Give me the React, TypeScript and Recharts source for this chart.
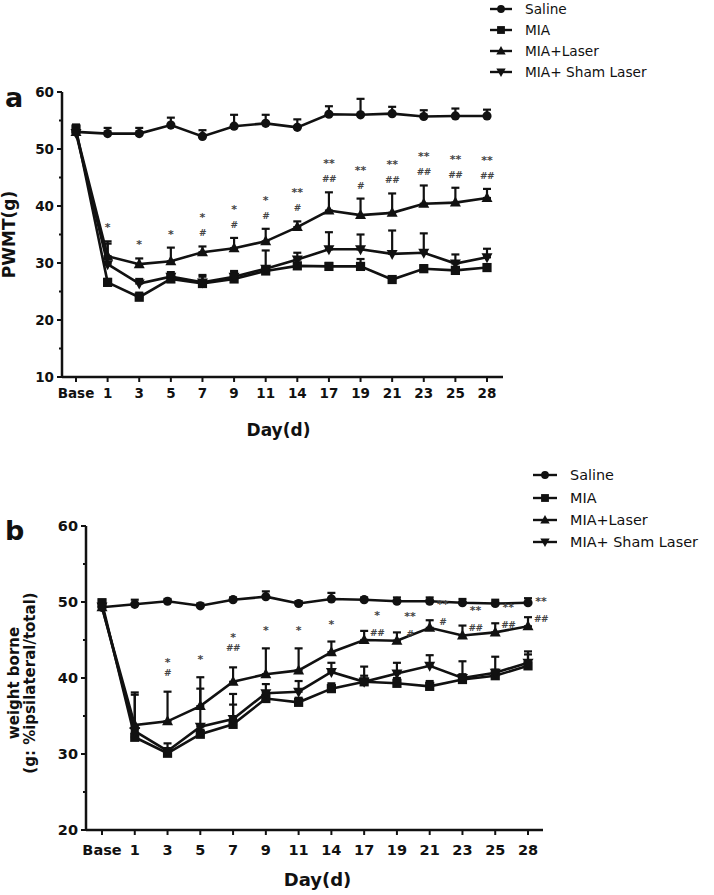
import React from "react";
import { ErrorBar, Label, Legend, Line, LineChart, XAxis, YAxis } from "recharts";

// shared x categories
const DAYS = ["Base", "1", "3", "5", "7", "9", "11", "14", "17", "19", "21", "23", "25", "28"];

// panel a: PWMT (g)
const SALINE_A = [53.0, 52.7, 52.7, 54.2, 52.2, 54.0, 54.5, 53.8, 56.1, 56.0, 56.2, 55.7, 55.8, 55.8];
const SALINE_A_ERR = [1.0, 1.0, 1.0, 1.3, 1.1, 2.0, 1.5, 1.4, 1.4, 2.8, 1.2, 1.1, 1.3, 1.1];
const MIA_A = [53.5, 26.6, 24.0, 27.2, 26.4, 27.2, 28.6, 29.5, 29.4, 29.4, 27.1, 29.0, 28.7, 29.2];
const MIA_A_ERR = [0.8, 0.6, 0.8, 0.5, 1.5, 1.4, 0.6, 0.5, 0.6, 1.3, 0.5, 0.6, 0.6, 0.6];
const LASER_A = [53.0, 31.2, 29.8, 30.3, 31.9, 32.6, 33.8, 36.3, 39.2, 38.4, 38.8, 40.4, 40.6, 41.4];
const LASER_A_ERR = [0.8, 2.6, 1.0, 2.4, 1.0, 1.8, 2.2, 1.0, 3.2, 2.9, 3.4, 3.2, 2.6, 1.6];
const SHAM_A = [52.8, 29.8, 26.4, 27.6, 26.6, 27.6, 29.0, 30.6, 32.4, 32.4, 31.6, 31.8, 29.9, 31.0];
const SHAM_A_ERR = [0.8, 3.6, 0.8, 0.8, 1.0, 0.8, 3.2, 1.2, 3.0, 2.6, 4.1, 3.4, 1.6, 1.5];
const STARS_A = ["", "*", "*", "*", "*", "*", "*", "**", "**", "**", "**", "**", "**", "**"];
const HASHES_A = ["", "", "", "", "#", "#", "#", "#", "##", "#", "##", "##", "##", "##"];
const TICKS_A = [10, 15, 20, 25, 30, 35, 40, 45, 50, 55, 60];

// panel b: weight borne (g: %ipsilateral/total)
const SALINE_B = [49.3, 49.7, 50.1, 49.5, 50.3, 50.7, 49.8, 50.4, 50.3, 50.1, 50.1, 49.9, 49.8, 49.9];
const SALINE_B_ERR = [0.5, 0.6, 0.3, 0.3, 0.3, 0.7, 0.3, 0.8, 0.3, 0.5, 0.5, 0.5, 0.5, 0.6];
const MIA_B = [49.9, 32.2, 30.1, 32.6, 33.9, 37.3, 36.8, 38.6, 39.5, 39.3, 38.9, 39.8, 40.3, 41.6];
const MIA_B_ERR = [0.4, 0.6, 0.5, 0.6, 2.6, 0.8, 0.6, 0.7, 0.8, 0.7, 0.7, 0.7, 0.8, 1.5];
const LASER_B = [49.3, 33.8, 34.3, 36.3, 39.5, 40.5, 41.0, 43.4, 45.0, 44.9, 46.6, 45.6, 46.0, 46.8];
const LASER_B_ERR = [0.4, 4.3, 3.9, 3.8, 1.9, 3.4, 2.9, 1.4, 1.2, 1.1, 1.0, 1.3, 1.2, 1.2];
const SHAM_B = [49.4, 33.0, 30.4, 33.6, 34.6, 38.0, 38.2, 40.8, 39.5, 40.6, 41.6, 40.0, 40.7, 42.0];
const SHAM_B_ERR = [0.5, 4.8, 1.0, 5.0, 3.3, 1.2, 1.4, 1.2, 2.0, 1.4, 1.4, 2.2, 2.1, 1.5];
const STARS_B = ["", "", "*", "*", "*", "*", "*", "*", "*", "**", "**", "**", "**", "**"];
const HASHES_B = ["", "", "#", "", "##", "", "", "", "##", "#", "#", "##", "##", "##"];
const TICKS_B = [20, 25, 30, 35, 40, 45, 50, 55, 60];

const FONT = "'DejaVu Sans', Verdana, sans-serif";
const INK = "#111";

type Shape = "circle" | "square" | "up" | "down";

const SERIES: { key: string; name: string; shape: Shape }[] = [
  { key: "saline", name: "Saline", shape: "circle" },
  { key: "mia", name: "MIA", shape: "square" },
  { key: "sham", name: "MIA+ Sham Laser", shape: "down" },
  { key: "laser", name: "MIA+Laser", shape: "up" },
];
const LEGEND_ORDER = ["saline", "mia", "laser", "sham"];

function buildRows(
  saline: number[], salineErr: number[],
  mia: number[], miaErr: number[],
  laser: number[], laserErr: number[],
  sham: number[], shamErr: number[],
  stars: string[], hashes: string[],
) {
  return DAYS.map((day, i) => ({
    day,
    saline: saline[i], salineErr: [0, salineErr[i]],
    mia: mia[i], miaErr: [0, miaErr[i]],
    laser: laser[i], laserErr: [0, laserErr[i]],
    sham: sham[i], shamErr: [0, shamErr[i]],
    stars: stars[i], hashes: hashes[i],
  }));
}

const ROWS_A = buildRows(SALINE_A, SALINE_A_ERR, MIA_A, MIA_A_ERR, LASER_A, LASER_A_ERR, SHAM_A, SHAM_A_ERR, STARS_A, HASHES_A);
const ROWS_B = buildRows(SALINE_B, SALINE_B_ERR, MIA_B, MIA_B_ERR, LASER_B, LASER_B_ERR, SHAM_B, SHAM_B_ERR, STARS_B, HASHES_B);

function Marker({ shape, cx, cy, s = 1 }: { shape: Shape; cx: number; cy: number; s?: number }) {
  if (shape === "circle") return <circle cx={cx} cy={cy} r={4.6 * s} fill={INK} />;
  if (shape === "square") return <rect x={cx - 4.6 * s} y={cy - 4.6 * s} width={9.2 * s} height={9.2 * s} fill={INK} />;
  const d = shape === "up" ? 1 : -1;
  const pts = `${cx},${cy - 6 * d * s} ${cx + 5.5 * s},${cy + 4 * d * s} ${cx - 5.5 * s},${cy + 4 * d * s}`;
  return <polygon points={pts} fill={INK} />;
}

const dotFor = (shape: Shape) => (p: any) => {
  if (p.cx == null || p.cy == null) return <g key={`e-${p.index}`} />;
  return (
    <g key={`${shape}-${p.index}`}>
      <Marker shape={shape} cx={p.cx} cy={p.cy} />
    </g>
  );
};

type NoteCfg = { hash: number; star: number; starAlone: number; sideFrom: number; sideDx: number; sideHash: number; sideStar: number };

// significance marks drawn above the MIA+Laser error caps
const noteDot = (cfg: NoteCfg) => (p: any) => {
  const { cx, cy, index, payload } = p;
  if (cx == null || cy == null) return <g key={`n-${index}`} />;
  const side = index >= cfg.sideFrom;
  const x = side ? cx + cfg.sideDx : cx;
  const hashY = side ? cy + cfg.sideHash : cy + cfg.hash;
  const starY = side ? cy + cfg.sideStar : payload.hashes ? cy + cfg.star : cy + cfg.starAlone;
  return (
    <g key={`n-${index}`} fontFamily={FONT} fill="#444" textAnchor="middle">
      {payload.stars && <text x={x} y={starY} fontSize={11} fontWeight="bold">{payload.stars}</text>}
      {payload.hashes && <text x={x} y={hashY} fontSize={9} fontWeight="bold" letterSpacing={-0.5}>{payload.hashes}</text>}
    </g>
  );
};

const yTick = (fontSize: number, gap: number) => (p: any) => {
  const { x, y, payload } = p;
  const major = payload.value % 10 === 0;
  return (
    <g>
      <line x1={x} x2={x - (major ? 5 : 3)} y1={y} y2={y} stroke={INK} strokeWidth={2} />
      {major && (
        <text x={x - 5 - gap} y={y} dy="0.36em" textAnchor="end" fontFamily={FONT} fontWeight="bold" fontSize={fontSize} fill={INK}>
          {payload.value}
        </text>
      )}
    </g>
  );
};

const xTick = (fontSize: number, dy: number) => (p: any) => {
  const { x, y, payload } = p;
  return (
    <g>
      <line x1={x} x2={x} y1={y} y2={y + 5} stroke={INK} strokeWidth={2} />
      <text x={x} y={y + dy} textAnchor="middle" fontFamily={FONT} fontWeight="bold" fontSize={fontSize} fill={INK}>
        {payload.value}
      </text>
    </g>
  );
};

type LegendCfg = { w: number; h: number; lineX: number; lineW: number; textX: number; rows: number[]; fontSize: number };

const legendBox = (cfg: LegendCfg) => () => (
  <svg width={cfg.w} height={cfg.h} style={{ display: "block" }}>
    {LEGEND_ORDER.map((key, i) => {
      const s = SERIES.find((d) => d.key === key)!;
      const y = cfg.rows[i];
      return (
        <g key={key}>
          <line x1={cfg.lineX} x2={cfg.lineX + cfg.lineW} y1={y} y2={y} stroke={INK} strokeWidth={2.4} />
          <Marker shape={s.shape} cx={cfg.lineX + cfg.lineW / 2} cy={y} s={0.85} />
          <text x={cfg.textX} y={y} dy="0.36em" fontFamily={FONT} fontSize={cfg.fontSize} fill={INK}>
            {s.name}
          </text>
        </g>
      );
    })}
  </svg>
);

type PanelProps = {
  rows: ReturnType<typeof buildRows>;
  top: number;
  height: number;
  margin: { top: number; right: number; left: number; bottom: number };
  yWidth: number;
  xHeight: number;
  pad: { left: number; right: number };
  domain: [number, number];
  ticks: number[];
  tickFont: number;
  xTickDy: number;
  letter: string;
  letterY: number;
  yLabel: string[];
  yLabelX: number[];
  yLabelFont: number;
  yLabelDy: number;
  xLabelDx: number;
  xLabelY: number;
  xLabelFont: number;
  legend: LegendCfg;
  legendPos: { left: number; top: number };
  note: NoteCfg;
};

function Panel(p: PanelProps) {
  return (
    <div style={{ position: "absolute", left: 0, top: p.top, width: 714, height: p.height }}>
      <div
        style={{
          position: "absolute", left: 5, top: p.letterY, fontFamily: FONT,
          fontWeight: "bold", fontSize: 27, lineHeight: 1, color: INK,
        }}
      >
        {p.letter}
      </div>
      <LineChart width={714} height={p.height} data={p.rows} margin={p.margin}>
        <XAxis
          dataKey="day"
          interval={0}
          height={p.xHeight}
          padding={p.pad}
          tickSize={0}
          tickMargin={0}
          tickLine={false}
          axisLine={{ stroke: INK, strokeWidth: 2.5 }}
          tick={xTick(p.tickFont, p.xTickDy)}
        >
          <Label
            content={(lp: any) => {
              const vb = lp.viewBox;
              return (
                <text
                  x={vb.x + vb.width / 2 + p.xLabelDx} y={p.xLabelY} textAnchor="middle"
                  fontFamily={FONT} fontWeight="bold" fontSize={p.xLabelFont} fill={INK}
                >
                  Day(d)
                </text>
              );
            }}
          />
        </XAxis>
        <YAxis
          domain={p.domain}
          ticks={p.ticks}
          width={p.yWidth}
          tickSize={0}
          tickMargin={0}
          tickLine={false}
          axisLine={{ stroke: INK, strokeWidth: 2.5 }}
          tick={yTick(p.tickFont, 3)}
        >
          <Label
            content={(lp: any) => {
              const vb = lp.viewBox;
              const cy = vb.y + vb.height / 2 + p.yLabelDy;
              return (
                <g>
                  {p.yLabel.map((t, i) => (
                    <text
                      key={t}
                      transform={`translate(${p.yLabelX[i]},${cy}) rotate(-90)`}
                      textAnchor="middle" dy="0.36em"
                      fontFamily={FONT} fontWeight="bold" fontSize={p.yLabelFont} fill={INK}
                    >
                      {t}
                    </text>
                  ))}
                </g>
              );
            }}
          />
        </YAxis>
        <Legend
          layout="vertical"
          align="center"
          verticalAlign="middle"
          wrapperStyle={{ left: p.legendPos.left, top: p.legendPos.top, width: p.legend.w, height: p.legend.h }}
          content={legendBox(p.legend)}
        />
        {SERIES.map((s) => (
          <Line
            key={s.key}
            dataKey={s.key}
            name={s.name}
            stroke={INK}
            strokeWidth={2.6}
            dot={dotFor(s.shape)}
            activeDot={false}
            isAnimationActive={false}
          >
            <ErrorBar dataKey={`${s.key}Err`} direction="y" width={4} stroke={INK} strokeWidth={2.2} />
          </Line>
        ))}
        <Line
          dataKey={(d: any) => d.laser + d.laserErr[1]}
          stroke="none"
          legendType="none"
          dot={noteDot(p.note)}
          activeDot={false}
          isAnimationActive={false}
        />
      </LineChart>
    </div>
  );
}

export default function App() {
  return (
    <div style={{ position: "absolute", left: 0, top: 0, width: 714, height: 895, background: "#fff", overflow: "hidden" }}>
      <Panel
        rows={ROWS_A}
        top={0}
        height={450}
        margin={{ top: 92, right: 211, left: 0, bottom: 0 }}
        yWidth={62}
        xHeight={73}
        pad={{ left: 14, right: 16 }}
        domain={[10, 60]}
        ticks={TICKS_A}
        tickFont={13.5}
        xTickDy={21}
        letter="a"
        letterY={84}
        yLabel={["PWMT(g)"]}
        yLabelX={[9]}
        yLabelFont={17}
        yLabelDy={0}
        xLabelDx={-4}
        xLabelY={436}
        xLabelFont={17}
        legend={{ w: 230, h: 84, lineX: 50, lineW: 22, textX: 85, rows: [9, 30, 51, 72], fontSize: 13.7 }}
        legendPos={{ left: 440, top: 0 }}
        note={{ hash: -10, star: -25, starAlone: -10, sideFrom: 99, sideDx: 0, sideHash: 0, sideStar: 0 }}
      />
      <Panel
        rows={ROWS_B}
        top={455}
        height={440}
        margin={{ top: 71, right: 171, left: 0, bottom: 0 }}
        yWidth={86}
        xHeight={65}
        pad={{ left: 16, right: 15 }}
        domain={[20, 60]}
        ticks={TICKS_B}
        tickFont={14.5}
        xTickDy={25}
        letter="b"
        letterY={62}
        yLabel={["weight borne", "(g: %ipsilateral/total)"]}
        yLabelX={[14, 30]}
        yLabelFont={15}
        yLabelDy={5}
        xLabelDx={3}
        xLabelY={431}
        xLabelFont={18}
        legend={{ w: 214, h: 96, lineX: 33, lineW: 24, textX: 70, rows: [15, 38, 60, 82], fontSize: 14.4 }}
        legendPos={{ left: 500, top: 5 }}
        note={{ hash: -16, star: -26, starAlone: -14, sideFrom: 8, sideDx: 13, sideHash: 5, sideStar: -12 }}
      />
    </div>
  );
}
